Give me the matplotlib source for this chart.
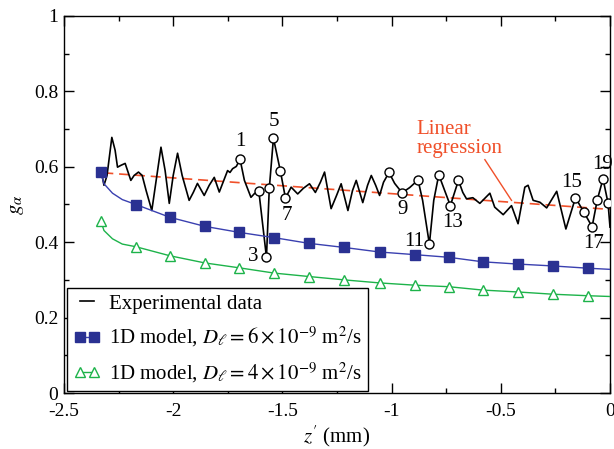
import numpy as np;
import matplotlib;
matplotlib.use('Agg');
import matplotlib.pyplot as plt;

plt.rcParams['font.family'] = ['Liberation Serif', 'DejaVu Serif'];
plt.rcParams['mathtext.fontset'] = 'stix';

# experimental trace (z' in mm, g_alpha)
exp_x = [-2.330, -2.317, -2.303, -2.281, -2.266, -2.255, -2.239, -2.220, -2.194, -2.179,
         -2.159, -2.142, -2.124, -2.098, -2.056, -2.037, -2.018, -2.000, -1.980, -1.959,
         -1.927, -1.908, -1.889, -1.858, -1.835, -1.812, -1.789, -1.751, -1.740, -1.728,
         -1.711, -1.694, -1.674, -1.644, -1.628, -1.608, -1.573, -1.560, -1.541, -1.509,
         -1.486, -1.460, -1.445, -1.430, -1.404, -1.376, -1.349, -1.326, -1.307, -1.277,
         -1.252, -1.231, -1.200, -1.179, -1.162, -1.132, -1.110, -1.093, -1.073, -1.055,
         -1.037, -1.012, -0.986, -0.952, -0.917, -0.879, -0.858, -0.827, -0.807, -0.784,
         -0.757, -0.731, -0.694, -0.674, -0.657, -0.628, -0.596, -0.550, -0.528, -0.489,
         -0.451, -0.421, -0.390, -0.375, -0.352, -0.321, -0.290, -0.244, -0.202, -0.158,
         -0.120, -0.082, -0.058, -0.032, -0.009, 0.000];
exp_y = [0.590, 0.551, 0.577, 0.678, 0.644, 0.599, 0.604, 0.609, 0.564, 0.577,
         0.586, 0.577, 0.537, 0.484, 0.652, 0.590, 0.503, 0.577, 0.636, 0.577,
         0.511, 0.532, 0.556, 0.524, 0.551, 0.572, 0.533, 0.590, 0.585, 0.595,
         0.601, 0.620, 0.564, 0.519, 0.529, 0.536, 0.360, 0.543, 0.676, 0.588,
         0.517, 0.546, 0.537, 0.528, 0.543, 0.555, 0.532, 0.559, 0.586, 0.489,
         0.524, 0.555, 0.484, 0.537, 0.564, 0.505, 0.551, 0.577, 0.551, 0.524,
         0.559, 0.585, 0.556, 0.531, 0.545, 0.565, 0.511, 0.395, 0.511, 0.579,
         0.537, 0.497, 0.564, 0.532, 0.515, 0.518, 0.503, 0.530, 0.493, 0.473,
         0.497, 0.449, 0.546, 0.551, 0.511, 0.506, 0.491, 0.535, 0.435, 0.518,
         0.480, 0.441, 0.513, 0.568, 0.504, 0.440];

# marked points on the trace
circ_x = [-1.694, -1.608, -1.573, -1.560, -1.541, -1.509, -1.486, -1.012, -0.952, -0.879,
          -0.827, -0.784, -0.731, -0.694, -0.158, -0.120, -0.082, -0.058, -0.032, -0.009];
circ_y = [0.620, 0.536, 0.360, 0.543, 0.676, 0.588, 0.517, 0.585, 0.531, 0.565,
          0.395, 0.579, 0.497, 0.564, 0.518, 0.480, 0.441, 0.513, 0.568, 0.504];
circ_lbl = ['1', '', '3', '', '5', '', '7', '', '9', '',
            '11', '', '13', '', '15', '', '17', '', '19', ''];
lbl_off = [(0, 18), (0, 0), (-13, 1), (0, 0), (0, 17), (0, 0), (1, -17), (0, 0), (0, -17), (0, 0),
           (-15, 3), (0, 0), (2, -17), (0, 0), (-4, 15), (0, 0), (2, -17), (0, 0), (0, 14), (0, 0)];

# 1D model, D = 6e-9
blue_x = [-2.332, -2.317, -2.278, -2.233, -2.171, -2.015, -1.855, -1.697, -1.537, -1.379,
          -1.216, -1.055, -0.894, -0.739, -0.583, -0.422, -0.261, -0.101, 0.0];
blue_y = [0.586, 0.555, 0.530, 0.513, 0.500, 0.466, 0.442, 0.426, 0.412, 0.397,
          0.386, 0.374, 0.367, 0.360, 0.348, 0.342, 0.337, 0.331, 0.328];
blue_mk = [0, 4, 5, 6, 7, 8, 9, 10, 11, 12, 13, 14, 15, 16, 17];

# 1D model, D = 4e-9
green_x = [-2.332, -2.317, -2.278, -2.233, -2.171, -2.015, -1.855, -1.697, -1.537, -1.379,
           -1.216, -1.055, -0.894, -0.739, -0.583, -0.422, -0.261, -0.101, 0.0];
green_y = [0.457, 0.431, 0.409, 0.395, 0.388, 0.364, 0.345, 0.332, 0.318, 0.309,
           0.300, 0.292, 0.286, 0.282, 0.273, 0.268, 0.262, 0.258, 0.256];
green_mk = blue_mk;

# linear regression end points
reg_x = [-2.32, 0.0];
reg_y = [0.584, 0.487];

xticks = [-2.5, -2, -1.5, -1, -0.5, 0];
xtick_lbl = ['-2.5', '-2', '-1.5', '-1', '-0.5', '0'];
yticks = [0, 0.2, 0.4, 0.6, 0.8, 1];
ytick_lbl = ['0', '0.2', '0.4', '0.6', '0.8', '1'];

red = '#f0502a';
blue = '#2a3192';
green = '#1db34a';

fig = plt.figure(figsize=(6.14, 4.49), dpi=100);
ax = fig.add_axes([64/614, 1-393/449, 546/614, 377/449]);

ax.plot(reg_x, reg_y, '--', color=red, lw=1.2, dashes=(6, 3.5), zorder=2);
l_exp, = ax.plot(exp_x, exp_y, '-', color='black', lw=1.2, zorder=3);
ax.plot(circ_x, circ_y, 'o', ms=6.5, mfc='white', mec='black', mew=1.0, zorder=4);
l_blue, = ax.plot(blue_x, blue_y, '-', color='#3a40b0', lw=1.0, marker='s', ms=6.5,
                  mfc=blue, mec=blue, markevery=blue_mk, zorder=3);
l_green, = ax.plot(green_x, green_y, '-', color=green, lw=1.0, marker='^', ms=7.5,
                   mfc='white', mec=green, mew=1.0, markevery=green_mk, zorder=3);

for x, y, s, off in zip(circ_x, circ_y, circ_lbl, lbl_off):
    if s:
        ax.annotate(s, (x, y), xytext=off, textcoords='offset pixels',
                    ha='center', va='center', fontsize=15);

#(annotation)
ax.text(-0.885, 0.725, 'Linear\nregression', color=red, fontsize=15,
        ha='left', va='top', linespacing=1.0);
ax.plot([-0.573, -0.451], [0.619, 0.511], '-', color=red, lw=1.0);

ax.set_xlim(-2.5, 0);
ax.set_ylim(0, 1);
ax.set_xticks(xticks);
ax.set_xticklabels(xtick_lbl);
ax.set_yticks(yticks);
ax.set_yticklabels(ytick_lbl);
ax.set_xticks(np.arange(-2.25, 0, 0.5), minor=True);
ax.set_yticks(np.arange(0.1, 1, 0.2), minor=True);
ax.tick_params(which='both', direction='in', top=True, right=True, labelsize=14, width=1.0);
ax.tick_params(which='major', length=7);
ax.tick_params(axis='x', which='major', pad=7);
ax.tick_params(axis='y', which='major', pad=4);
ax.tick_params(which='minor', length=3.5);
for s in ax.spines.values():
    s.set_linewidth(1.0);

ax.set_xlabel("$z'$ (mm)", fontsize=15, labelpad=3);
ax.set_ylabel(r'$g_\alpha$', fontsize=15, labelpad=6);

leg = ax.legend([l_exp, l_blue, l_green],
                ['Experimental data',
                 r'1D model, $D_\ell = 6\times10^{-9}$ m$^2$/s',
                 r'1D model, $D_\ell = 4\times10^{-9}$ m$^2$/s'],
                loc='lower left', bbox_to_anchor=(0.006, 0.004), fontsize=15,
                numpoints=2, handlelength=1.3, fancybox=False, framealpha=1,
                edgecolor='black', borderpad=0.3, labelspacing=0.55, handletextpad=0.4,
                borderaxespad=0.0);
leg.get_frame().set_linewidth(1.0);
for h in leg.legend_handles:
    h.set_markevery(None);

fig.savefig('out.png', dpi=100);
